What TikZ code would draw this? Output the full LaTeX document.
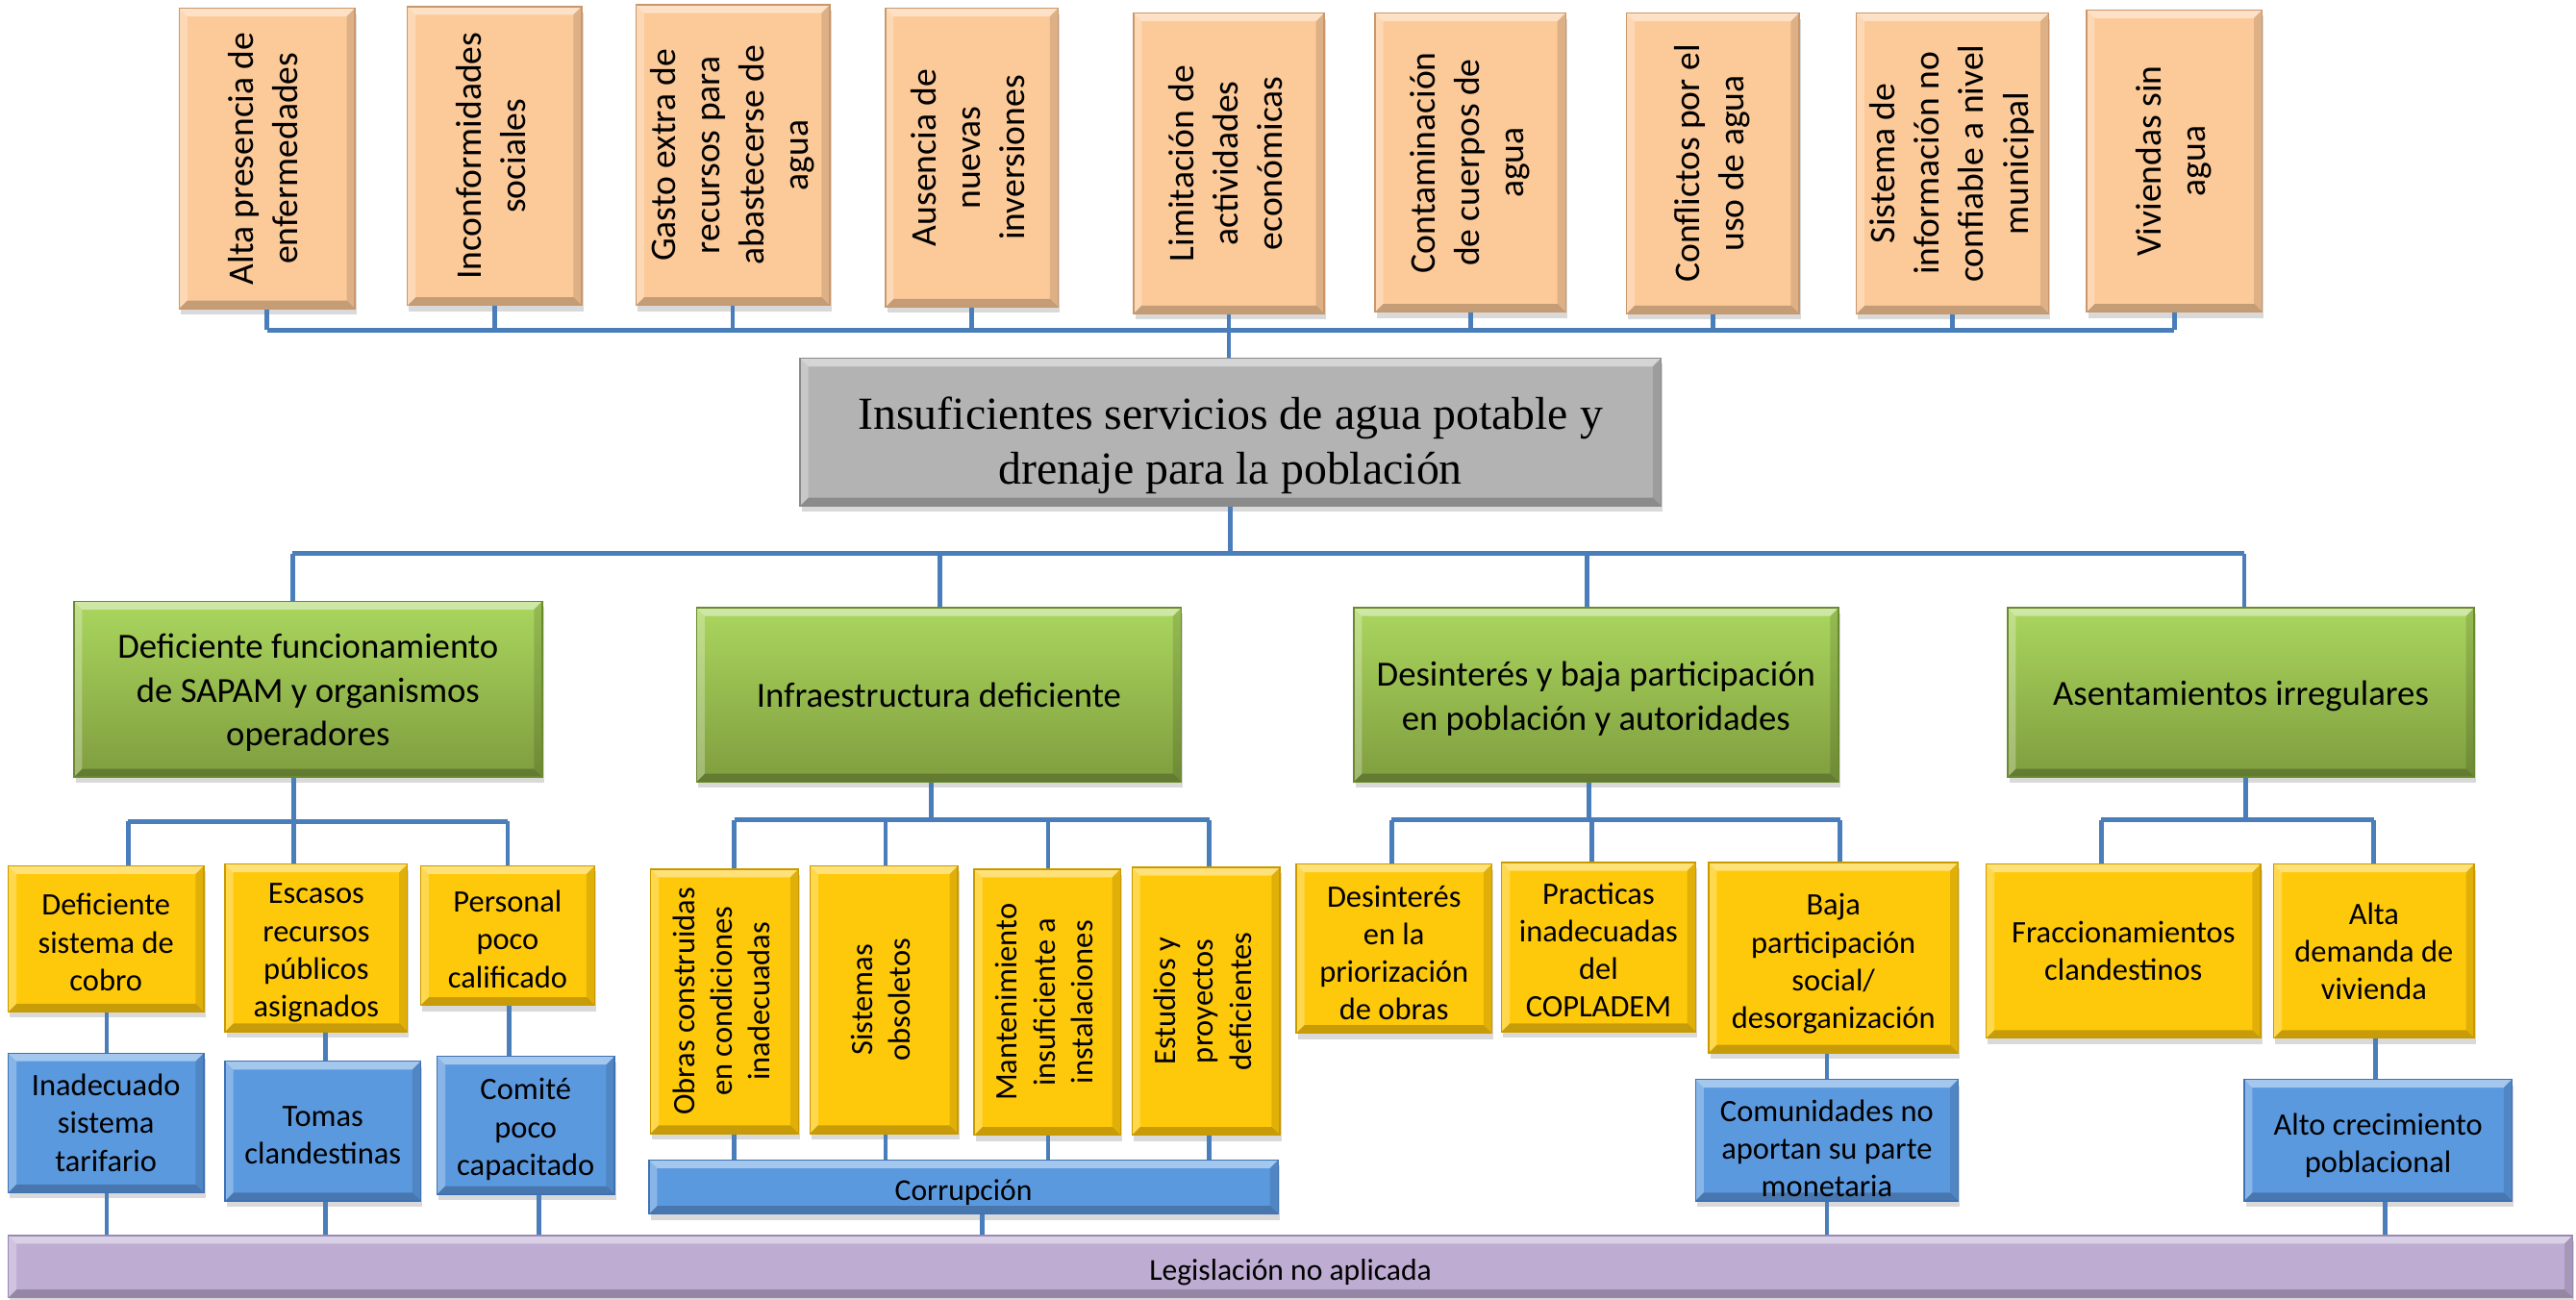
\documentclass[tikz,border=0pt]{standalone}
\usepackage{fontspec}
\setmainfont{Carlito}
\newfontfamily\serifcore{Liberation Serif}
\usepackage{graphicx}
\usetikzlibrary{shadows}

\definecolor{peach}{HTML}{FCC998}
\definecolor{peachline}{HTML}{C9976B}
\definecolor{coregray}{HTML}{B3B3B3}
\definecolor{coreline}{HTML}{8A8A8A}
\definecolor{greentop}{HTML}{AAD65E}
\definecolor{greenbot}{HTML}{7F9D3E}
\definecolor{greenline}{HTML}{6A8A2E}
\definecolor{amber}{HTML}{FFC90B}
\definecolor{amberline}{HTML}{C99A00}
\definecolor{skyblue}{HTML}{5B99DF}
\definecolor{skyline}{HTML}{3F72B4}
\definecolor{lilac}{HTML}{BEACD3}
\definecolor{lilacline}{HTML}{9A88B3}
\definecolor{connblue}{HTML}{4A7EBB}

% rotated multi-line label (reads bottom to top)
\newcommand{\vlines}[1]{\rotatebox{90}{\begin{tabular}{@{}c@{}}#1\end{tabular}}}
% invisible strut that lowers a label block inside its box
\newcommand{\lowerby}[1]{\rule{0pt}{#1pt}}

\tikzset{
  bevel/.style={path picture={
    \path (path picture bounding box.north west) coordinate (bvNW)
          (path picture bounding box.north east) coordinate (bvNE)
          (path picture bounding box.south west) coordinate (bvSW)
          (path picture bounding box.south east) coordinate (bvSE);
    \fill[white,opacity=0.45] (bvNW) -- (bvNE) -- ([shift={(-5pt,-5pt)}]bvNE) -- ([shift={(5pt,-5pt)}]bvNW) -- cycle;
    \fill[white,opacity=0.28] (bvNW) -- ([shift={(5pt,-5pt)}]bvNW) -- ([shift={(5pt,5pt)}]bvSW) -- (bvSW) -- cycle;
    \fill[black,opacity=0.22] (bvSW) -- ([shift={(5pt,5pt)}]bvSW) -- ([shift={(-5pt,5pt)}]bvSE) -- (bvSE) -- cycle;
    \fill[black,opacity=0.12] (bvNE) -- (bvSE) -- ([shift={(-5pt,5pt)}]bvSE) -- ([shift={(-5pt,-5pt)}]bvNE) -- cycle;
  }},
  box/.style={draw, line width=0.8pt, inner sep=0pt, align=center,
    drop shadow={opacity=0.3, shadow xshift=1pt, shadow yshift=-3.5pt}, bevel},
  effectbox/.style={box, fill=peach, draw=peachline, font=\fontsize{22}{27}\selectfont},
  corebox/.style={box, fill=coregray, draw=coreline, font=\serifcore\fontsize{28}{33}\selectfont},
  causebox/.style={box, top color=greentop, bottom color=greenbot, draw=greenline, font=\fontsize{21.5}{26.5}\selectfont},
  subbox/.style={box, fill=amber, draw=amberline, font=\fontsize{19}{23}\selectfont},
  rootbox/.style={box, fill=skyblue, draw=skyline, font=\fontsize{19}{23}\selectfont},
  basebox/.style={box, fill=lilac, draw=lilacline, font=\fontsize{18.5}{22}\selectfont},
  conn/.style={draw=connblue, line width=2.8pt},
}

\begin{document}
\begin{tikzpicture}[x=1pt,y=-1pt]
\useasboundingbox (0,0) rectangle (1568,791);

% ---- effects (top row)
\node[effectbox, minimum width=107pt, minimum height=183pt] (t1) at (162.5,96.5) {\vlines{Alta presencia de\\enfermedades}};
\node[effectbox, minimum width=106pt, minimum height=182pt] (t2) at (301,95) {\vlines{Inconformidades\\sociales}};
\node[effectbox, minimum width=118pt, minimum height=183pt] (t3) at (446,94.5) {\vlines{Gasto extra de\\recursos para\\abastecerse de\\agua}};
\node[effectbox, minimum width=105pt, minimum height=182pt] (t4) at (591.5,96) {\vlines{Ausencia de\\nuevas\\inversiones}};
\node[effectbox, minimum width=116pt, minimum height=183pt] (t5) at (748,99.5) {\vlines{Limitación de\\actividades\\económicas}};
\node[effectbox, minimum width=116pt, minimum height=182pt] (t6) at (895,99) {\vlines{Contaminación\\de cuerpos de\\agua}};
\node[effectbox, minimum width=105pt, minimum height=183pt] (t7) at (1042.5,99.5) {\vlines{Conflictos por el\\uso de agua}};
\node[effectbox, minimum width=117pt, minimum height=183pt] (t8) at (1188.5,99.5) {\vlines{Sistema de\\información no\\confiable a nivel\\municipal}};
\node[effectbox, minimum width=107pt, minimum height=184pt] (t9) at (1323.5,98) {\vlines{Viviendas sin\\agua}};

% ---- central problem
\node[corebox, minimum width=524pt, minimum height=90pt] (core) at (749,263) {\lowerby{36}Insuficientes servicios de agua potable y\\drenaje para la población};

% ---- main causes
\node[causebox, minimum width=285pt, minimum height=107pt] (g1) at (187.5,419.5) {\lowerby{19}Deficiente funcionamiento\\de SAPAM y organismos\\operadores};
\node[causebox, minimum width=295pt, minimum height=106pt] (g2) at (571.5,423) {Infraestructura deficiente};
\node[causebox, minimum width=295pt, minimum height=106pt] (g3) at (971.5,423) {\lowerby{19.5}Desinterés y baja participación\\en población y autoridades};
\node[causebox, minimum width=284pt, minimum height=103pt] (g4) at (1364,421.5) {\lowerby{19}Asentamientos irregulares};

% ---- secondary causes
\node[subbox, minimum width=119pt, minimum height=89pt] (y1) at (64.5,571.5) {\lowerby{17.5}Deficiente\\sistema de\\cobro};
\node[subbox, minimum width=111pt, minimum height=102pt] (y2) at (192.5,577) {\lowerby{18.5}Escasos\\recursos\\públicos\\asignados};
\node[subbox, minimum width=106pt, minimum height=85pt] (y3) at (309,569.5) {\lowerby{17.5}Personal\\poco\\calificado};

\node[subbox, minimum width=90pt, minimum height=161pt] (y4) at (441,609.5) {\vlines{Obras construidas\\en condiciones\\inadecuadas}};
\node[subbox, minimum width=90pt, minimum height=163pt] (y5) at (538,608.5) {\vlines{Sistemas\\obsoletos}};
\node[subbox, minimum width=89pt, minimum height=162pt] (y6) at (637.5,610) {\vlines{Mantenimiento\\insuficiente a\\instalaciones}};
\node[subbox, minimum width=90pt, minimum height=163pt] (y7) at (734,609.5) {\vlines{Estudios y\\proyectos\\deficientes}};

\node[subbox, minimum width=119pt, minimum height=103pt] (y8) at (848.5,577.5) {\lowerby{18}Desinterés\\en la\\priorización\\de obras};
\node[subbox, minimum width=118pt, minimum height=103pt] (y9) at (973,576.5) {\lowerby{16.5}Practicas\\inadecuadas\\del\\COPLADEM};
\node[subbox, minimum width=152pt, minimum height=116pt] (y10) at (1116,583) {\lowerby{20.5}Baja\\participación\\social/\\desorganización};

\node[subbox, minimum width=167pt, minimum height=106pt] (y11) at (1292.5,579) {Fraccionamientos\\clandestinos};
\node[subbox, minimum width=122pt, minimum height=106pt] (y12) at (1445,579) {Alta\\demanda de\\vivienda};

% ---- root causes
\node[rootbox, minimum width=119pt, minimum height=85pt] (b1) at (64.5,683.5) {Inadecuado\\sistema\\tarifario};
\node[rootbox, minimum width=119pt, minimum height=85pt] (b2) at (196.5,688.5) {\lowerby{17.5}Tomas\\clandestinas};
\node[rootbox, minimum width=108pt, minimum height=84pt] (b3) at (320,685) {\lowerby{18}Comité\\poco\\capacitado};
\node[rootbox, minimum width=383pt, minimum height=33pt, font=\fontsize{18.5}{22}\selectfont] (corr) at (586.5,722.5) {\lowerby{20}Corrupción};
\node[rootbox, minimum width=160pt, minimum height=74pt] (b4) at (1112,694) {\lowerby{23.5}Comunidades no\\aportan su parte\\monetaria};
\node[rootbox, minimum width=163pt, minimum height=74pt] (b5) at (1447.5,694) {\lowerby{19.5}Alto crecimiento\\poblacional};

\node[basebox, minimum width=1561pt, minimum height=38pt] (leg) at (785.5,771) {\lowerby{20}Legislación no aplicada};

% ---- connectors: effects to central problem
\coordinate (tbus) at (748,201);
\foreach \n in {t1,t2,t3,t4,t5,t6,t7,t8,t9}
  \draw[conn] (\n.south) -- (\n.south |- tbus);
\draw[conn] (t1.south |- tbus) -- (t9.south |- tbus);
\draw[conn] (tbus) -- (tbus |- core.north);

% ---- central problem to main causes
\coordinate (mbus) at (749,337);
\coordinate (m1) at (178,337);
\coordinate (m2) at (572,337);
\coordinate (m3) at (966,337);
\coordinate (m4) at (1366,337);
\draw[conn] (core.south) -- (mbus);
\draw[conn] (m1) -- (m4);
\draw[conn] (m1) -- (m1 |- g1.north);
\draw[conn] (m2) -- (m2 |- g2.north);
\draw[conn] (m3) -- (m3 |- g3.north);
\draw[conn] (m4) -- (m4 |- g4.north);

% ---- branch 1
\coordinate (k1) at (179,500);
\coordinate (k1a) at (78,500);
\coordinate (k1c) at (309,500);
\draw[conn] (g1.south -| k1) -- (k1);
\draw[conn] (k1a) -- (k1c);
\draw[conn] (k1a) -- (k1a |- y1.north);
\draw[conn] (k1) -- (k1 |- y2.north);
\draw[conn] (k1c) -- (k1c |- y3.north);
\coordinate (v1) at (65,0);
\coordinate (v2) at (198,0);
\coordinate (v3) at (310,0);
\coordinate (v3b) at (328,0);
\draw[conn] (y1.south -| v1) -- (b1.north -| v1);
\draw[conn] (y2.south -| v2) -- (b2.north -| v2);
\draw[conn] (y3.south -| v3) -- (b3.north -| v3);
\draw[conn] (b1.south -| v1) -- (leg.north -| v1);
\draw[conn] (b2.south -| v2) -- (leg.north -| v2);
\draw[conn] (b3.south -| v3b) -- (leg.north -| v3b);

% ---- branch 2
\coordinate (k2) at (567,499);
\coordinate (k2a) at (447,499);
\coordinate (k2b) at (539,499);
\coordinate (k2c) at (638,499);
\coordinate (k2d) at (736,499);
\draw[conn] (g2.south -| k2) -- (k2);
\draw[conn] (k2a) -- (k2d);
\foreach \k/\n in {k2a/y4,k2b/y5,k2c/y6,k2d/y7}{
  \draw[conn] (\k) -- (\k |- \n.north);
  \draw[conn] (\n.south -| \k) -- (corr.north -| \k);
}
\coordinate (v7) at (598,0);
\draw[conn] (corr.south -| v7) -- (leg.north -| v7);

% ---- branch 3
\coordinate (k3) at (967,499);
\coordinate (k3a) at (847,499);
\coordinate (k3b) at (969,499);
\coordinate (k3c) at (1120,499);
\draw[conn] (g3.south -| k3) -- (k3);
\draw[conn] (k3a) -- (k3c);
\draw[conn] (k3a) -- (k3a |- y8.north);
\draw[conn] (k3b) -- (k3b |- y9.north);
\draw[conn] (k3c) -- (k3c |- y10.north);
\coordinate (v8) at (1112,0);
\draw[conn] (y10.south -| v8) -- (b4.north -| v8);
\draw[conn] (b4.south -| v8) -- (leg.north -| v8);

% ---- branch 4
\coordinate (k4) at (1367,499);
\coordinate (k4a) at (1279,499);
\coordinate (k4b) at (1445,499);
\draw[conn] (g4.south -| k4) -- (k4);
\draw[conn] (k4a) -- (k4b);
\draw[conn] (k4a) -- (k4a |- y11.north);
\draw[conn] (k4b) -- (k4b |- y12.north);
\coordinate (v9) at (1446,0);
\coordinate (v10) at (1452,0);
\draw[conn] (y12.south -| v9) -- (b5.north -| v9);
\draw[conn] (b5.south -| v10) -- (leg.north -| v10);
\end{tikzpicture}
\end{document}
